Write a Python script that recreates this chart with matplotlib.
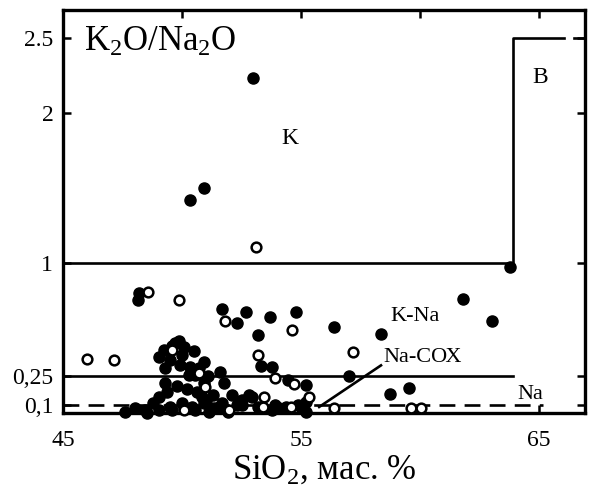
import numpy as np
import matplotlib
matplotlib.use("Agg")
import matplotlib.pyplot as plt

plt.rcParams['font.family'] = ['Liberation Serif', 'DejaVu Serif']
plt.rcParams['mathtext.fontset'] = 'custom'
plt.rcParams['mathtext.rm'] = 'Liberation Serif'
plt.rcParams['mathtext.it'] = 'Liberation Serif:italic'

# filled circles: SiO2 (wt.%), K2O/Na2O
filled_x = [53.0, 50.33, 50.92, 63.81,
            48.20, 48.16, 51.67, 52.30, 52.68, 53.72, 54.81, 53.18, 53.31, 53.77,
            54.44, 55.23, 56.40, 58.37, 57.03, 58.74, 59.54, 61.80, 63.05,
            49.87, 49.58, 49.25, 49.04, 50.0, 50.50, 49.50, 49.92, 50.33, 50.92,
            50.54, 50.29, 51.59, 51.76, 50.92, 49.29, 49.37, 49.04, 50.63, 50.84,
            52.09, 52.93,
            47.61, 48.03, 48.54, 49.04, 49.58, 50.08, 50.54, 51.13, 51.55, 52.51,
            53.22, 53.77, 54.39, 54.90, 55.02, 48.45, 49.50, 50.0, 50.42, 50.92,
            51.34, 51.67, 51.92, 52.80, 52.51, 54.10, 55.23, 55.23,
            49.70, 50.10, 49.30, 50.70, 51.10, 49.80, 50.20, 51.30, 51.00, 48.80,
            52.30, 53.90]
filled_y = [2.235, 1.42, 1.50, 0.979,
            0.805, 0.758, 0.698, 0.604, 0.678, 0.644, 0.678, 0.524, 0.317, 0.310,
            0.229, 0.203, 0.578, 0.531, 0.25, 0.157, 0.188, 0.765, 0.618,
            0.484, 0.451, 0.424, 0.377, 0.390, 0.417, 0.357, 0.324, 0.310, 0.344,
            0.257, 0.257, 0.277, 0.214, 0.214, 0.214, 0.167, 0.141, 0.167, 0.141,
            0.152, 0.141,
            0.065, 0.085, 0.062, 0.075, 0.075, 0.090, 0.075, 0.065, 0.090, 0.100,
            0.090, 0.075, 0.090, 0.100, 0.090, 0.075, 0.090, 0.110, 0.090, 0.110,
            0.085, 0.110, 0.065, 0.152, 0.126, 0.085, 0.115, 0.065,
            0.470, 0.440, 0.300, 0.300, 0.250, 0.200, 0.180, 0.150, 0.120, 0.110,
            0.100, 0.100]

# open circles
open_x = [53.1, 48.58, 49.87, 46.03, 47.15, 51.80, 54.64, 53.22, 53.93, 54.70,
          55.36, 57.20, 56.40, 59.62, 60.04, 49.58, 50.71, 50.96, 50.08, 51.97,
          53.47, 53.43, 54.60]
open_y = [1.106, 0.81, 0.758, 0.364, 0.357, 0.618, 0.557, 0.390, 0.240, 0.210,
          0.141, 0.410, 0.085, 0.085, 0.085, 0.424, 0.270, 0.193, 0.075, 0.075,
          0.141, 0.090, 0.090]

# field boundaries
k_bound_x = [45, 63.9, 63.9, 66.05]
k_bound_y = [1, 1, 2.5, 2.5]
k_bound2_x = [66.5, 66.95]
k_bound2_y = [2.5, 2.5]
kna_bound_x = [45, 63.9]
kna_bound_y = [0.25, 0.25]
na_bound_x = [45, 65.2]
na_bound_y = [0.1, 0.1]
pointer_x = [55.77, 58.37]
pointer_y = [0.09, 0.32]

ytick_vals = [0.1, 0.25, 1, 2, 2.5]
ytick_labels = ['0,1', '0,25', '1', '2', '2.5']
xtick_vals = [45, 50, 55, 60, 65]
xtick_labels = ['45', '', '55', '', '65']

# the original axis is stretched near the bottom
scale_v = [0.06, 0.1, 0.25, 2.69]
scale_p = [0.0, 8.0, 37.0, 402.0]


def fwd(v):
    return np.interp(v, scale_v, scale_p)


def inv(p):
    return np.interp(p, scale_p, scale_v)


fig = plt.figure(figsize=(5.97, 4.95), dpi=100)
ax = fig.add_axes([0.1055, 0.1657, 0.8745, 0.8143])
ax.set_yscale('function', functions=(fwd, inv))

lw = 1.9
ax.plot(k_bound_x, k_bound_y, color='black', lw=lw)
ax.plot(k_bound2_x, k_bound2_y, color='black', lw=lw)
ax.plot(kna_bound_x, kna_bound_y, color='black', lw=lw)
ax.plot(na_bound_x, na_bound_y, color='black', lw=lw, linestyle=(0, (6, 3.5)))
ax.plot(pointer_x, pointer_y, color='black', lw=lw)

ax.plot(filled_x, filled_y, 'o', color='black', markersize=8,
        linestyle='none', clip_on=False, zorder=3)
ax.plot(open_x, open_y, 'o', markerfacecolor='white', markeredgecolor='black',
        markeredgewidth=1.8, markersize=7, linestyle='none', clip_on=False,
        zorder=4)

ax.set_xlim(45, 66.95)
ax.set_ylim(0.06, 2.69)
ax.set_xticks(xtick_vals)
ax.set_xticklabels(xtick_labels)
ax.set_yticks(ytick_vals)
ax.set_yticklabels(ytick_labels)
ax.minorticks_off()
ax.tick_params(axis='both', direction='in', length=6, width=1.8,
               top=True, right=True, labelsize=17)
ax.tick_params(axis='x', pad=12)
ax.tick_params(axis='y', pad=7)
for s in ax.spines.values():
    s.set_linewidth(2.4)

ax.text(0.04, 0.92, r'K$_2$O/Na$_2$O', transform=ax.transAxes,
        fontsize=25, ha='left', va='center')
ax.text(54.55, 1.83, 'K', fontsize=17, ha='center', va='center')
ax.text(65.06, 2.24, 'В', fontsize=17, ha='center', va='center')
ax.text(59.8, 0.644, 'K-Na', fontsize=16, ha='center', va='center')
ax.text(58.46, 0.37, 'Na-СОХ', fontsize=16, ha='left', va='center')
ax.text(64.64, 0.152, 'Na', fontsize=16, ha='center', va='center')

ax.set_xlabel('SiO$_2$, мас. %', fontsize=25, labelpad=2)

fig.savefig('out.png', dpi=100)
